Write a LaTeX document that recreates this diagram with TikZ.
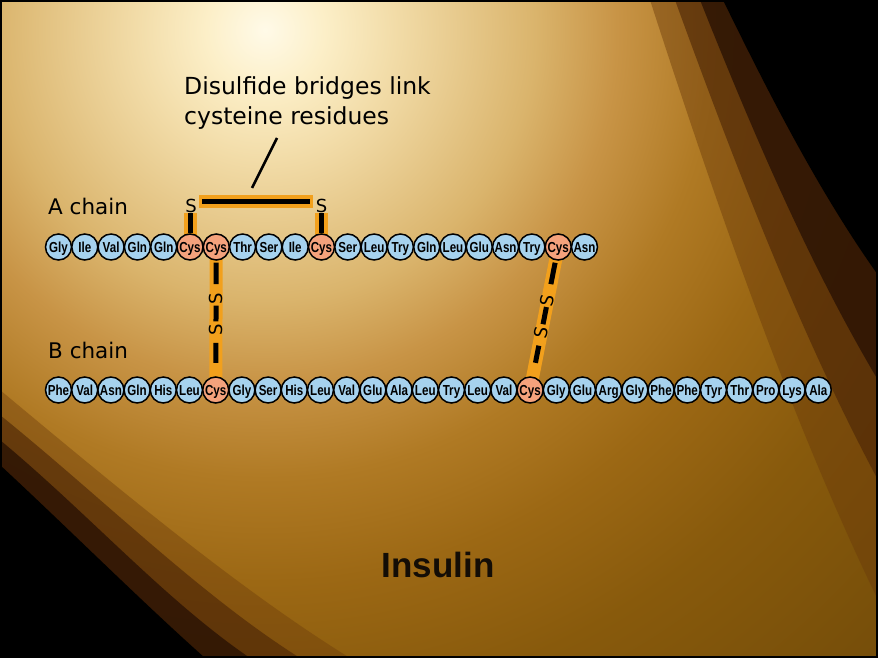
\documentclass[tikz,border=0pt]{standalone}
\usepackage{fontspec}
\setmainfont{DejaVu Sans}
\newfontfamily\resfam[FakeStretch=0.8]{Liberation Sans}
\newfontfamily\insfam{Liberation Sans}
\usetikzlibrary{calc}

\definecolor{resblue}{HTML}{A6D2EE}
\definecolor{cysorange}{HTML}{F4A27C}
\definecolor{bandorange}{HTML}{F2A01C}
\definecolor{gA}{HTML}{FFFAE8}
\definecolor{gB}{HTML}{FCEFC8}
\definecolor{gC}{HTML}{F2DCA8}
\definecolor{gD}{HTML}{E6C88A}
\definecolor{gE}{HTML}{DAB46C}
\definecolor{gF}{HTML}{C89446}
\definecolor{gG}{HTML}{B07A24}
\definecolor{gH}{HTML}{9C6814}
\definecolor{gI}{HTML}{885A0C}
\definecolor{gJ}{HTML}{6A4608}
\definecolor{darkA}{HTML}{6A3A0A}
\definecolor{darkB}{HTML}{4A2406}
\definecolor{darkC}{HTML}{2A1204}

% the path's bounding box covers the central 50bp of the shading
\pgfdeclareradialshading{bgglow}{\pgfpoint{0bp}{0bp}}{%
color(0bp)=(gA); color(1.47bp)=(gB); color(3.24bp)=(gC); color(5bp)=(gD);
color(6.76bp)=(gE); color(8.8bp)=(gF); color(11.2bp)=(gG); color(13.8bp)=(gH);
color(17bp)=(gI); color(25bp)=(gJ); color(50bp)=(gJ)}

\pgfdeclarelayer{back}
\pgfdeclarelayer{mid}
\pgfsetlayers{back,mid,main}

\newcommand\resfont{\resfam\bfseries\fontsize{14.5}{14.5}\selectfont}

\tikzset{
  res/.style={circle, draw=black, line width=1.5pt, minimum size=26pt,
    inner sep=0pt, text height=10pt, text depth=0pt, font=\resfont},
  band/.style={draw=bandorange, line width=13pt},
  bond/.style={draw=black, line width=5pt},
  sulfur/.style={font=\fontsize{18}{18}\selectfont, inner sep=0.5pt,
    text height=13pt, text depth=0pt},
  chainlabel/.style={font=\fontsize{21.5}{22}\selectfont, anchor=base west, inner sep=0pt},
}

\begin{document}
\begin{tikzpicture}[x=1pt,y=-1pt]
\useasboundingbox (0,0) rectangle (878,658);

% background
\begin{pgfonlayer}{back}
\begin{scope}
  \clip (0,0) rectangle (878,658);
  \fill[gJ] (0,0) rectangle (878,658);
  \shade[shading=bgglow] (265,30) circle (1000);
  % top-right darkness
  \fill[darkA, opacity=0.45] (650,0) .. controls (718,210) and (791,420) .. (878,600) -- (878,0) -- cycle;
  \fill[darkB, opacity=0.6] (675,0) .. controls (736,168) and (801,336) .. (878,480) -- (878,0) -- cycle;
  \fill[darkC, opacity=0.8] (700,0) .. controls (753,133) and (810,266) .. (878,380) -- (878,0) -- cycle;
  \fill[black] (723,0) .. controls (770,96) and (819,192) .. (878,275) -- (878,0) -- cycle;
  % bottom-left darkness
  \fill[darkA, opacity=0.4] (0,390) .. controls (120,490) and (240,590) .. (350,658) -- (0,658) -- cycle;
  \fill[darkB, opacity=0.6] (0,415) .. controls (105,500) and (200,595) .. (300,658) -- (0,658) -- cycle;
  \fill[darkC, opacity=0.8] (0,440) .. controls (90,515) and (165,600) .. (250,658) -- (0,658) -- cycle;
  \fill[black] (0,465) .. controls (70,530) and (140,600) .. (205,658) -- (0,658) -- cycle;
\end{scope}
\draw[black, line width=4pt] (0,0) rectangle (878,658);
\end{pgfonlayer}

% A chain
\foreach \n [count=\i] in {Gly,Ile,Val,Gln,Gln,Cys,Cys,Thr,Ser,Ile,Cys,Ser,Leu,Try,Gln,Leu,Glu,Asn,Try,Cys,Asn}{
  \ifnum\strcmp{\n}{Cys}=0 \def\rf{cysorange}\else\def\rf{resblue}\fi
  \node[res, fill=\rf] (a\i) at ({58.5+(\i-1)*26.3},247) {\n};
}
% B chain
\foreach \n [count=\i] in {Phe,Val,Asn,Gln,His,Leu,Cys,Gly,Ser,His,Leu,Val,Glu,Ala,Leu,Try,Leu,Val,Cys,Gly,Glu,Arg,Gly,Phe,Phe,Tyr,Thr,Pro,Lys,Ala}{
  \ifnum\strcmp{\n}{Cys}=0 \def\rf{cysorange}\else\def\rf{resblue}\fi
  \node[res, fill=\rf] (b\i) at ({58.5+(\i-1)*26.2},390) {\n};
}

% labels
\node[chainlabel] (achain) at (48,214) {A chain};
\node[chainlabel] (bchain) at (48,358) {B chain};
\node[font=\fontsize{23.5}{30}\selectfont, align=left, anchor=base west, inner sep=0pt]
  (title) at (184,125) {Disulfide bridges link\\cysteine residues};
\coordinate (lead1) at (277,138);
\coordinate (lead2) at (252,188);
\draw[black, line width=2.5pt] (lead1) -- (lead2);
\node[font=\insfam\bfseries\fontsize{35}{35}\selectfont, text=black!90!brown, anchor=base]
  (ins) at (438,577) {Insulin};

% intra-chain bridge (A6 - A11)
\node[sulfur] (s1) at (191,206) {S};
\node[sulfur] (s2) at (321.5,206) {S};
\coordinate (h1) at ($(s1.east)+(2,-5)$);
\coordinate (h2) at ($(s2.west)+(-2,-5)$);
\begin{pgfonlayer}{mid}
  \draw[band] (a6.center) -- (a6 |- s1.south);
  \draw[band] (a11.center) -- (a11 |- s2.south);
  \draw[band] (h1) -- (h2);
  \draw[band] (a7.center) -- (b7.center);
  \draw[band] (a20.center) -- (b19.center);
\end{pgfonlayer}
\draw[bond] (a6.north) -- (a6 |- s1.south);
\draw[bond] (a11.north) -- (a11 |- s2.south);
\draw[bond] ($(h1)+(3,0)$) -- ($(h2)+(-3,0)$);

% inter-chain bridge A7 - B7
\draw[bond] ($(a7)!.11!(b7)$) -- ($(a7)!.26!(b7)$);
\draw[bond] ($(a7)!.41!(b7)$) -- ($(a7)!.52!(b7)$);
\draw[bond] ($(a7)!.67!(b7)$) -- ($(a7)!.81!(b7)$);
\path (a7) -- (b7) node[sulfur, sloped, pos=.33] (s3) {S} node[sulfur, sloped, pos=.595] (s4) {S};

% inter-chain bridge A20 - B19
\draw[bond] ($(a20)!.11!(b19)$) -- ($(a20)!.26!(b19)$);
\draw[bond] ($(a20)!.42!(b19)$) -- ($(a20)!.54!(b19)$);
\draw[bond] ($(a20)!.69!(b19)$) -- ($(a20)!.81!(b19)$);
\path (a20) -- (b19) node[sulfur, sloped, pos=.35] (s5) {S} node[sulfur, sloped, pos=.625] (s6) {S};
\end{tikzpicture}
\end{document}
